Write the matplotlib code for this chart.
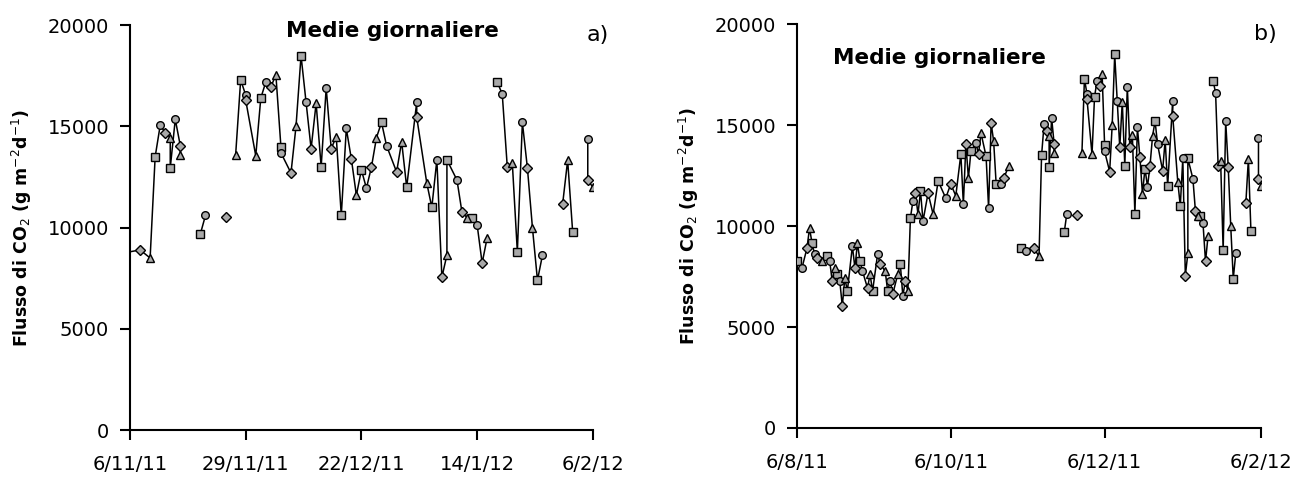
import numpy as np
import matplotlib
matplotlib.use("Agg")
import matplotlib.pyplot as plt
import matplotlib.dates as mdates
import datetime as dt

# ---------------- data ----------------
start_date = dt.date(2011, 8, 6)          # first day of panel b axis
# early period (days after 6/8/11), only visible in panel b
early_days = [0, 2, 4, 5, 6, 7, 8, 10, 12, 13, 14, 15, 16, 17, 18, 19, 20, 22,
              23, 24, 25, 26, 28, 29, 30, 32, 33, 35, 36, 37, 38, 40, 41, 42,
              43, 44, 45, 46, 47, 48, 49, 50, 52, 54, 56, 59, 61, 63, 65, 66,
              67, 68, 69, 71, 72, 73, 75, 76, 77, 78, 79, 81, 82, 84, 89, 91]
early_vals = [8270, 7920, 8910, 9900, 9160, 8610, 8420, 8270, 8510, 8270, 7280,
              7920, 7620, 7280, 6040, 7430, 6780, 9010, 7920, 9160, 8270, 7770,
              6930, 7620, 6780, 8610, 8120, 7770, 6780, 7280, 6630, 7620, 8120,
              6530, 7280, 6780, 10400, 11240, 11630, 10590, 11730, 10250, 11630,
              10590, 12230, 11390, 12080, 11500, 13560, 11090, 14060, 12380,
              13710, 14110, 13560, 14600, 13460, 10890, 15100, 14210, 12080,
              12080, 12380, 12970, 8910, 8760]
early_breaks = [86.5]                     # days with a gap in the line

# winter period (days after 6/11/11), visible in both panels
winter_start = dt.date(2011, 11, 6)
winter_days = [2, 4, 5, 6, 7, 8, 8, 9, 10, 10, 14, 15, 19, 21, 22, 23, 23, 25,
               26, 27, 28, 29, 30, 30, 32, 33, 34, 35, 36, 37, 38, 39, 40, 41,
               42, 43, 44, 45, 46, 47, 48, 49, 50, 51, 53, 54, 55, 57, 57, 59,
               60, 61, 62, 63, 63, 65, 66, 67, 68, 69, 70, 71, 73, 74, 75, 76,
               77, 78, 79, 80, 81, 82, 86, 87, 88, 91, 91, 92]
winter_vals = [8900, 8500, 13500, 15050, 14700, 14450, 12950, 15350, 14050,
               13600, 9700, 10600, 10550, 13600, 17300, 16550, 16300, 13550,
               16400, 17200, 16950, 17550, 14000, 13700, 12700, 15000, 18500,
               16200, 13900, 16150, 13000, 16900, 13900, 14500, 10600, 14900,
               13400, 11600, 12850, 11950, 13000, 14450, 15200, 14050, 12750,
               14250, 12000, 16200, 15450, 12200, 11000, 13350, 7550, 8650,
               13350, 12350, 10750, 10500, 10500, 10150, 8250, 9500, 17200,
               16600, 13000, 13200, 8800, 15200, 12950, 10000, 7400, 8650,
               11160, 13330, 9780, 14370, 12350, 12000]
winter_breaks = [12, 17, 20, 72, 84, 89.5]

ticks_a = ["6/11/11", "29/11/11", "22/12/11", "14/1/12", "6/2/12"]
ticks_b = ["6/8/11", "6/10/11", "6/12/11", "6/2/12"]
y_ticks = [0, 5000, 10000, 15000, 20000]
title_text = "Medie giornaliere"
ylabel_text = "Flusso di CO$_2$ (g m$^{-2}$d$^{-1}$)"
panel_tags = ["a)", "b)"]

# ---------------- build series ----------------
dates = [start_date + dt.timedelta(days=d) for d in early_days] + \
        [winter_start + dt.timedelta(days=d) for d in winter_days]
vals = np.array(early_vals + winter_vals, dtype=float)
x = mdates.date2num(dates)
break_x = [mdates.date2num(start_date) + b for b in early_breaks] + \
          [mdates.date2num(winter_start) + b for b in winter_breaks]

# line with NaN inserted at the gaps
lx, ly = [], []
for i in range(len(x)):
    if i > 0 and any(x[i - 1] < b < x[i] for b in break_x):
        lx.append(np.nan)
        ly.append(np.nan)
    lx.append(x[i])
    ly.append(vals[i])
lx = np.array(lx)
ly = np.array(ly)


def parse(lbl):
    d, m, y = lbl.split("/")
    return mdates.date2num(dt.date(2000 + int(y), int(m), int(d)))


plt.rcParams["font.family"] = ["DejaVu Sans"]
fig = plt.figure(figsize=(13, 4.83), dpi=100)
ax_a = fig.add_axes([0.100, 0.1097, 0.356, 0.838])
ax_b = fig.add_axes([0.613, 0.1139, 0.357, 0.836])

markers = ["s", "o", "D", "^"]
msizes = [5.5, 5.5, 5.0, 5.5]

for ax, tlabels, tag in [(ax_a, ticks_a, panel_tags[0]), (ax_b, ticks_b, panel_tags[1])]:
    tpos = [parse(t) for t in tlabels]
    ax.plot(lx, ly, color="black", lw=1.1, zorder=2)
    for k, m in enumerate(markers):
        idx = np.arange(len(x)) % len(markers) == k
        ax.plot(x[idx], vals[idx], ls="none", marker=m, ms=msizes[k],
                mfc="#a9a9a9", mec="black", mew=1.0, zorder=3)
    ax.set_xlim(tpos[0], tpos[-1])
    ax.set_ylim(0, 20000)
    ax.set_xticks(tpos)
    ax.set_xticklabels(tlabels)
    ax.set_yticks(y_ticks)
    ax.set_yticklabels([str(v) for v in y_ticks])
    for s in ["top", "right"]:
        ax.spines[s].set_visible(False)
    for s in ["left", "bottom"]:
        ax.spines[s].set_linewidth(1.5)
    ax.tick_params(direction="out", length=7, width=1.5, labelsize=14,
                   colors="black")
    ax.tick_params(axis="x", pad=11)
    ax.tick_params(axis="y", pad=8)
    ax.set_ylabel(ylabel_text, fontsize=12.5, fontweight="bold", labelpad=10)
    ax.text(1.01, 0.975, tag, transform=ax.transAxes, fontsize=16,
            ha="center", va="center")

ax_a.text(0.568, 0.985, title_text, transform=ax_a.transAxes, fontsize=15.5,
          fontweight="bold", ha="center", va="center")
ax_b.text(0.308, 0.916, title_text, transform=ax_b.transAxes, fontsize=15.5,
          fontweight="bold", ha="center", va="center")

fig.savefig("out.png", dpi=100)
